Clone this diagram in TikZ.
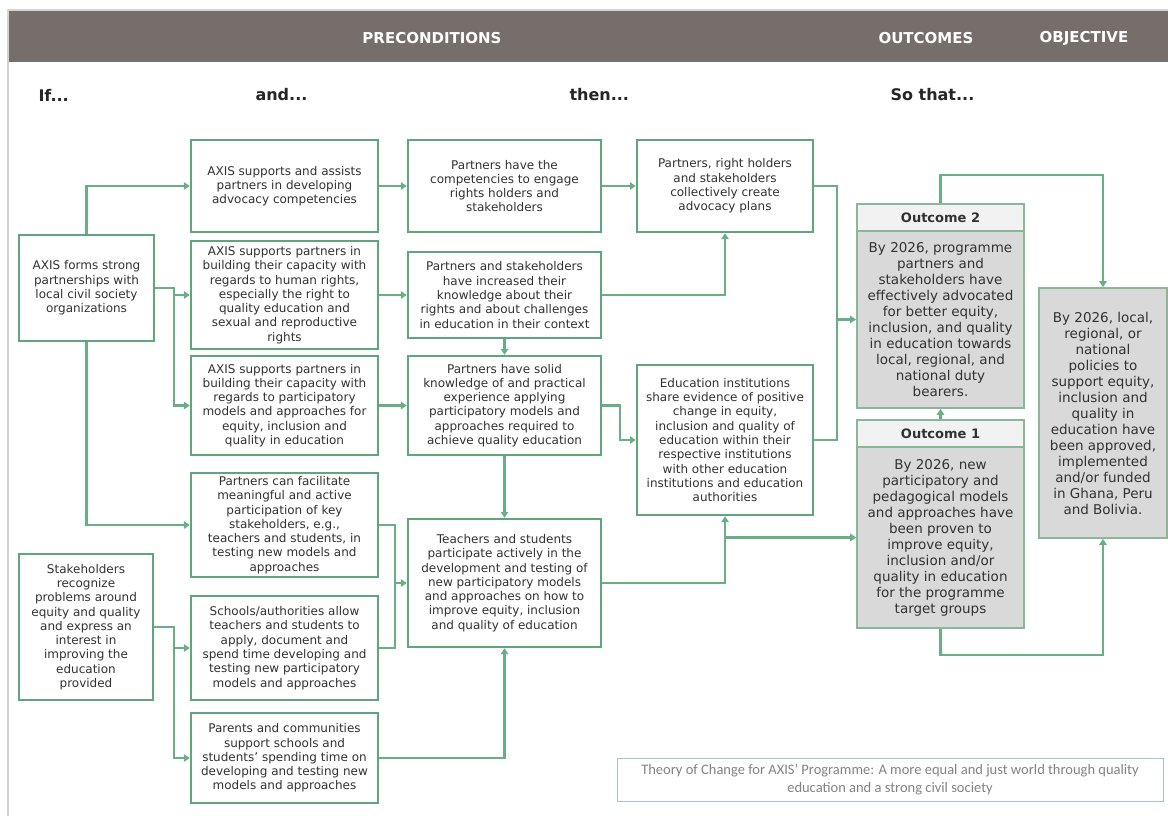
\documentclass[tikz,border=0pt]{standalone}
\usepackage{fontspec}
\setmainfont{DejaVu Sans}
\newfontfamily\capfont{Carlito}
\usetikzlibrary{arrows.meta, calc}

\definecolor{boxgreen}{RGB}{96,166,124}
\definecolor{linegreen}{RGB}{106,174,134}
\definecolor{barbrown}{RGB}{118,110,107}
\definecolor{outgray}{RGB}{217,217,217}
\definecolor{headgray}{RGB}{242,242,242}
\definecolor{outedge}{RGB}{140,182,156}
\definecolor{txt}{RGB}{50,50,50}
\definecolor{framegray}{RGB}{212,212,212}
\definecolor{capgray}{RGB}{130,130,130}

\begin{document}
\begin{tikzpicture}[x=1pt, y=-1pt,
    stepbox/.style 2 args={draw=boxgreen, line width=2.4pt, fill=white, text=txt,
      align=center, inner sep=2pt, font=\fontsize{12}{14.3}\selectfont,
      minimum width=#1, minimum height=#2},
    outhead/.style={draw=outedge, line width=1.8pt, fill=headgray, text=txt,
      minimum width=167pt, minimum height=27pt, font=\bfseries\fontsize{13}{15}\selectfont},
    outbody/.style={draw=outedge, line width=1.8pt, fill=outgray, text=txt, align=center,
      minimum width=167pt, font=\fontsize{13.5}{16}\selectfont},
    wire/.style={draw=linegreen, line width=2.4pt},
    link/.style={wire, -{Triangle[length=6pt, width=7.5pt]}},
    colhead/.style={anchor=west, text=black!85, font=\bfseries\fontsize{16}{18}\selectfont},
    barhead/.style={text=white, font=\bfseries\fontsize{15}{17}\selectfont}
  ]
  \useasboundingbox (0,0) rectangle (1168,816);

  % frame and title bar
  \draw[framegray, line width=2pt] (8,816) -- (8,10) -- (1168,10);
  \fill[barbrown] (9,11) rectangle (1168,62);
  \node[barhead] (pre) at (432,38) {PRECONDITIONS};
  \node[barhead] (out) at (926,38) {OUTCOMES};
  \node[barhead] (objh) at (1084,38) {OBJECTIVE};

  \node[colhead] (if) at (35,95) {If...};
  \node[colhead] (and) at (252,95) {and...};
  \node[colhead] (then) at (566,95) {then...};
  \node[colhead] (so) at (887,95) {So that...};

  % first column
  \node[stepbox={135pt}{106pt}] (axis) at (86.5,288) {AXIS forms strong\\partnerships with\\local civil society\\organizations};
  \node[stepbox={134pt}{146pt}] (stake) at (86,627) {Stakeholders\\recognize\\problems around\\equity and quality\\and express an\\interest in\\improving the\\education\\provided};

  % second column
  \node[stepbox={187pt}{92pt}] (a1) at (284.5,186) {AXIS supports and assists\\partners in developing\\advocacy competencies};
  \node[stepbox={187pt}{108pt}] (a2) at (284.5,295) {AXIS supports partners in\\building their capacity with\\regards to human rights,\\especially the right to\\quality education and\\sexual and reproductive\\rights};
  \node[stepbox={187pt}{99pt}] (a3) at (284.5,405.5) {AXIS supports partners in\\building their capacity with\\regards to participatory\\models and approaches for\\equity, inclusion and\\quality in education};
  \node[stepbox={187pt}{104pt}] (a4) at (284.5,525) {Partners can facilitate\\meaningful and active\\participation of key\\stakeholders, e.g.,\\teachers and students, in\\testing new models and\\approaches};
  \node[stepbox={187pt}{104pt}] (a5) at (284.5,648) {Schools/authorities allow\\teachers and students to\\apply, document and\\spend time developing and\\testing new participatory\\models and approaches};
  \node[stepbox={187pt}{90pt}] (a6) at (284.5,758) {Parents and communities\\support schools and\\students’ spending time on\\developing and testing new\\models and approaches};

  % third column
  \node[stepbox={193pt}{92pt}] (c1) at (504.5,186) {Partners have the\\competencies to engage\\rights holders and\\stakeholders};
  \node[stepbox={193pt}{86pt}] (c2) at (504.5,295) {Partners and stakeholders\\have increased their\\knowledge about their\\rights and about challenges\\in education in their context};
  \node[stepbox={193pt}{99pt}] (c3) at (504.5,405.5) {Partners have solid\\knowledge of and practical\\experience applying\\participatory models and\\approaches required to\\achieve quality education};
  \node[stepbox={193pt}{128pt}] (c4) at (504.5,583) {Teachers and students\\participate actively in the\\development and testing of\\new participatory models\\and approaches on how to\\improve equity, inclusion\\and quality of education};

  % fourth column
  \node[stepbox={176pt}{92pt}] (d1) at (725,186) {Partners, right holders\\and stakeholders\\collectively create\\advocacy plans};
  \node[stepbox={176pt}{150pt}] (d2) at (725,440) {Education institutions\\share evidence of positive\\change in equity,\\inclusion and quality of\\education within their\\respective institutions\\with other education\\institutions and education\\authorities};

  % outcomes
  \node[outhead] (o2h) at (940.5,217.5) {Outcome 2};
  \node[outbody, minimum height=177pt] (o2b) at (940.5,319.5) {By 2026, programme\\partners and\\stakeholders have\\effectively advocated\\for better equity,\\inclusion, and quality\\in education towards\\local, regional, and\\national duty\\bearers.};
  \node[outhead] (o1h) at (940.5,433.5) {Outcome 1};
  \node[outbody, minimum height=181pt] (o1b) at (940.5,537.5) {By 2026, new\\participatory and\\pedagogical models\\and approaches have\\been proven to\\improve equity,\\inclusion and/or\\quality in education\\for the programme\\target groups};

  % objective
  \node[outbody, minimum width=128pt, minimum height=250pt] (obj) at (1103,413) {By 2026, local,\\regional, or\\national\\policies to\\support equity,\\inclusion and\\quality in\\education have\\been approved,\\implemented\\and/or funded\\in Ghana, Peru\\and Bolivia.};

  % caption
  \node[draw=framegray!80!teal, line width=1pt, text=capgray, align=center,
    minimum width=546pt, minimum height=43pt, font=\capfont\fontsize{14.5}{18}\selectfont]
    (cap) at (890,779.5) {Theory of Change for AXIS’ Programme: A more equal and just world through quality\\education and a strong civil society};

  % connectors from the first column
  \coordinate (s1) at ($(axis.east)+(19,0)$);
  \coordinate (s2) at ($(stake.east)+(20,0)$);
  \draw[link] (axis.north) |- (a1);
  \draw[link] (axis.east) -- (s1) |- (a3);
  \draw[link] (s1 |- a2) -- (a2);
  \draw[link] (axis.south) |- (a4);
  \draw[link] (stake.east) -- (s2) |- (a6);
  \draw[link] (s2 |- a5) -- (a5);

  % connectors from the second column
  \coordinate (m1) at ($(a4.east)+(16,0)$);
  \draw[link] (a1) -- (c1);
  \draw[link] (a2) -- (c2);
  \draw[link] (a3) -- (c3);
  \draw[wire] (a4.east) -- (m1) |- (a5.east);
  \draw[link] (m1 |- c4) -- (c4);
  \draw[link] (a6) -| (c4);

  % connectors from the third column
  \coordinate (m2) at ($(c3.east)+(18,0)$);
  \draw[link] (c1) -- (d1);
  \draw[link] (c2) -| (d1);
  \draw[link] (c2) -- (c3);
  \draw[link] (c3) -- (c4);
  \draw[link] (c3.east) -- (m2) |- (d2);
  \draw[link] (c4) -| (d2);
  \draw[link] (d2.south |- o1b) -- (o1b);

  % towards outcomes and objective
  \coordinate (m3) at ($(d1.east)+(23,0)$);
  \draw[wire] (d1.east) -- (m3) |- (d2.east);
  \draw[link] (m3 |- o2b) -- (o2b);
  \draw[link] (o1h) -- (o2b);
  \draw[link] (o2h.north) -- ++(0,-28) -| (obj);
  \draw[link] (o1b.south) -- ++(0,26) -| (obj);
\end{tikzpicture}
\end{document}
